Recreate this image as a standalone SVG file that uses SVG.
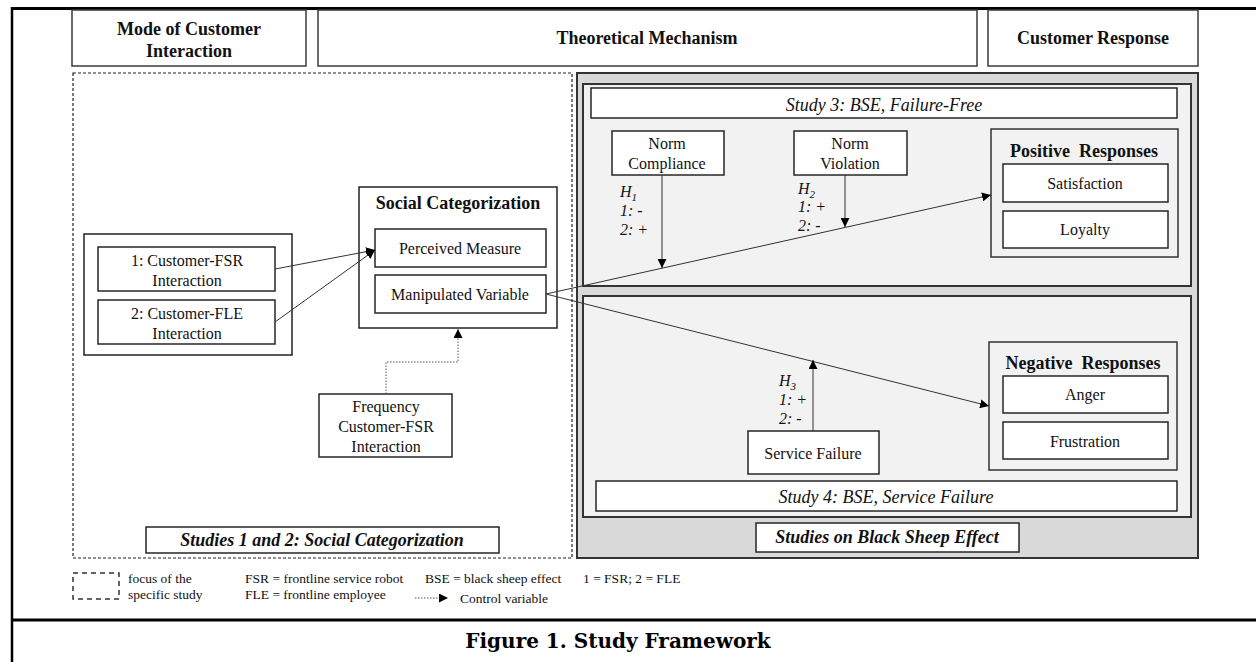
<svg xmlns="http://www.w3.org/2000/svg" width="1256" height="662" viewBox="0 0 1256 662">
<style>
  .t { font-family: "Liberation Serif", "Times New Roman", serif; fill: #111; }
  .r16 { font-size: 16px; }
  .b18 { font-size: 18px; font-weight: bold; }
  .i18 { font-size: 18px; font-style: italic; }
  .bi18 { font-size: 18px; font-weight: bold; font-style: italic; }
  .i16 { font-size: 16px; font-style: italic; }
  .lg { font-size: 13.5px; }
  .box { fill: #fff; stroke: #262626; stroke-width: 1.5; }
  .hdr { fill: #fff; stroke: #3a3a3a; stroke-width: 1.5; }
  .panel { fill: #f2f2f2; stroke: #333; stroke-width: 2; }
  .con { fill: none; stroke: #333; stroke-width: 1; }
  .dot { fill: none; stroke: #555; stroke-width: 1; stroke-dasharray: 1.5 1.5; }
  .c { text-anchor: middle; }
</style>
<defs>
  <marker id="ah" viewBox="0 0 10 10" refX="10" refY="5" markerWidth="9" markerHeight="9" markerUnits="userSpaceOnUse" orient="auto">
    <path d="M0,0 L10,5 L0,10 z" fill="#000"/>
  </marker>
</defs>
<rect width="1256" height="662" fill="#fff"/>

<g id="frame">
  <line x1="11" y1="8.5" x2="1256" y2="8.5" stroke="#000" stroke-width="3"/>
  <line x1="12" y1="7" x2="12" y2="662" stroke="#000" stroke-width="2.5"/>
  <line x1="11" y1="620" x2="1256" y2="620" stroke="#000" stroke-width="3"/>
</g>

<g id="header-mode">
  <rect class="hdr" x="72" y="10" width="234" height="56"/>
  <text class="t b18 c" x="189" y="35">Mode of Customer</text>
  <text class="t b18 c" x="189" y="57">Interaction</text>
</g>
<g id="header-mechanism">
  <rect class="hdr" x="318" y="10" width="659" height="56"/>
  <text class="t b18 c" x="647" y="44">Theoretical Mechanism</text>
</g>
<g id="header-response">
  <rect class="hdr" x="988" y="10" width="210" height="56"/>
  <text class="t b18 c" x="1093" y="44">Customer Response</text>
</g>

<g id="studies-1-2">
  <rect x="73" y="73" width="499" height="485" fill="none" stroke="#222" stroke-width="1.2" stroke-dasharray="3 2"/>
</g>

<g id="bse-area">
  <rect x="577" y="73" width="621" height="485" fill="#d9d9d9" stroke="#333" stroke-width="2"/>
</g>
<g id="study3">
  <rect class="panel" x="583" y="84" width="608" height="202"/>
  <rect class="box" x="591" y="88" width="586" height="30"/>
  <text class="t i18 c" x="884" y="111">Study 3: BSE, Failure-Free</text>
</g>
<g id="study4">
  <rect class="panel" x="583" y="296" width="608" height="221"/>
  <rect class="box" x="596" y="481" width="581" height="30"/>
  <text class="t i18 c" x="886" y="503">Study 4: BSE, Service Failure</text>
</g>

<g id="interaction-group">
  <rect x="84" y="234" width="208" height="121" fill="#fff" stroke="#222" stroke-width="1.5"/>
</g>
<g id="fsr-interaction">
  <rect class="box" x="98" y="247" width="177" height="44"/>
  <text class="t r16 c" x="187" y="266">1: Customer-FSR</text>
  <text class="t r16 c" x="187" y="286">Interaction</text>
</g>
<g id="fle-interaction">
  <rect class="box" x="98" y="300" width="177" height="44"/>
  <text class="t r16 c" x="187" y="319">2: Customer-FLE</text>
  <text class="t r16 c" x="187" y="339">Interaction</text>
</g>

<g id="social-categorization">
  <rect x="359" y="187" width="198" height="141" fill="#fff" stroke="#222" stroke-width="1.5"/>
  <text class="t b18 c" x="458" y="209">Social Categorization</text>
</g>
<g id="perceived-measure">
  <rect class="box" x="375" y="229" width="171" height="38"/>
  <text class="t r16 c" x="460" y="254">Perceived Measure</text>
</g>
<g id="manipulated-variable">
  <rect class="box" x="375" y="275" width="171" height="38"/>
  <text class="t r16 c" x="460" y="300">Manipulated Variable</text>
</g>

<g id="frequency">
  <rect class="box" x="319" y="394" width="133" height="63"/>
  <text class="t r16 c" x="386" y="412">Frequency</text>
  <text class="t r16 c" x="386" y="432">Customer-FSR</text>
  <text class="t r16 c" x="386" y="452">Interaction</text>
</g>

<g id="label-studies-1-2">
  <rect class="box" x="146" y="527" width="353" height="26"/>
  <text class="t bi18 c" x="322" y="546">Studies 1 and 2: Social Categorization</text>
</g>
<g id="label-bse">
  <rect class="box" x="756" y="523" width="263" height="29"/>
  <text class="t bi18 c" x="887" y="543">Studies on Black Sheep Effect</text>
</g>

<g id="norm-compliance">
  <rect class="box" x="612" y="131" width="112" height="44"/>
  <text class="t r16 c" x="667" y="149">Norm</text>
  <text class="t r16 c" x="667" y="169">Compliance</text>
</g>
<g id="norm-violation">
  <rect class="box" x="794" y="131" width="113" height="44"/>
  <text class="t r16 c" x="850" y="149">Norm</text>
  <text class="t r16 c" x="850" y="169">Violation</text>
</g>

<g id="positive-responses">
  <rect x="991" y="129" width="187" height="128" fill="#f2f2f2" stroke="#333" stroke-width="1.5"/>
  <text class="t b18 c" x="1084" y="157" xml:space="preserve">Positive  Responses</text>
  <rect class="box" x="1003" y="164" width="165" height="38"/>
  <text class="t r16 c" x="1085" y="189">Satisfaction</text>
  <rect class="box" x="1003" y="211" width="165" height="37"/>
  <text class="t r16 c" x="1085" y="235">Loyalty</text>
</g>

<g id="negative-responses">
  <rect x="989" y="342" width="188" height="128" fill="#f2f2f2" stroke="#333" stroke-width="1.5"/>
  <text class="t b18 c" x="1083" y="369" xml:space="preserve">Negative  Responses</text>
  <rect class="box" x="1003" y="376" width="165" height="37"/>
  <text class="t r16 c" x="1085" y="400">Anger</text>
  <rect class="box" x="1003" y="422" width="165" height="37"/>
  <text class="t r16 c" x="1085" y="447">Frustration</text>
</g>

<g id="service-failure">
  <rect class="box" x="748" y="431" width="131" height="43"/>
  <text class="t r16 c" x="813" y="459">Service Failure</text>
</g>

<g id="hypotheses">
  <text class="t i16" x="620" y="197">H<tspan font-size="11" dy="4">1</tspan></text>
  <text class="t i16" x="620" y="216">1: -</text>
  <text class="t i16" x="620" y="235">2: +</text>
  <text class="t i16" x="798" y="194">H<tspan font-size="11" dy="4">2</tspan></text>
  <text class="t i16" x="798" y="212">1: +</text>
  <text class="t i16" x="798" y="231">2: -</text>
  <text class="t i16" x="779" y="386">H<tspan font-size="11" dy="4">3</tspan></text>
  <text class="t i16" x="779" y="405">1: +</text>
  <text class="t i16" x="779" y="424">2: -</text>
</g>

<g id="connectors">
  <line class="con" x1="275" y1="269" x2="375" y2="250" marker-end="url(#ah)"/>
  <line class="con" x1="275" y1="322" x2="375" y2="250" marker-end="url(#ah)"/>
  <path class="dot" d="M386 394 V362 H458 V329" marker-end="url(#ah)"/>
  <line class="con" x1="546" y1="294" x2="991" y2="195" marker-end="url(#ah)"/>
  <line class="con" x1="546" y1="294" x2="989" y2="406" marker-end="url(#ah)"/>
  <line class="con" x1="662" y1="175" x2="662" y2="268" marker-end="url(#ah)"/>
  <line class="con" x1="845" y1="175" x2="845" y2="227" marker-end="url(#ah)"/>
  <line class="con" x1="813" y1="431" x2="813" y2="360" marker-end="url(#ah)"/>
</g>

<g id="legend">
  <rect x="73" y="573" width="46" height="26" fill="none" stroke="#333" stroke-width="1.5" stroke-dasharray="5 4"/>
  <text class="t lg" x="128" y="583">focus of the</text>
  <text class="t lg" x="128" y="599">specific study</text>
  <text class="t lg" x="245" y="583">FSR = frontline service robot</text>
  <text class="t lg" x="245" y="599">FLE = frontline employee</text>
  <text class="t lg" x="425" y="583">BSE = black sheep effect</text>
  <text class="t lg" x="583" y="583">1 = FSR; 2 = FLE</text>
  <line class="dot" x1="415" y1="598" x2="448" y2="598" marker-end="url(#ah)"/>
  <text class="t lg" x="460" y="603">Control variable</text>
</g>

<g id="caption">
  <text x="618" y="648" text-anchor="middle" font-family="'DejaVu Serif', Georgia, serif" font-weight="bold" font-size="20" fill="#000">Figure 1. Study Framework</text>
</g>
</svg>
